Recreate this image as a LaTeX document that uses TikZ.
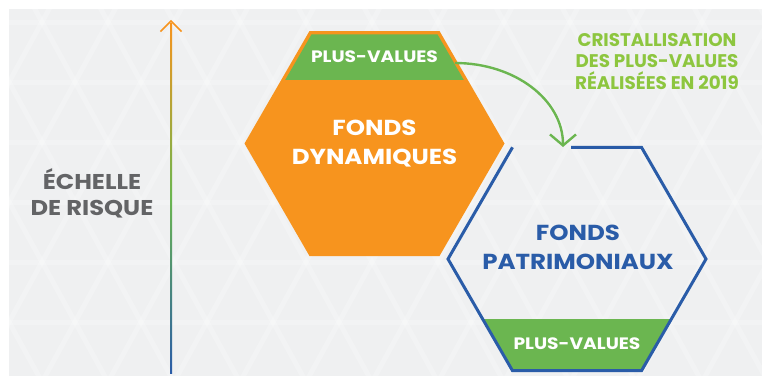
\documentclass[tikz,border=0pt]{standalone}
\usepackage{fontspec}
\setmainfont{Poppins}
\newfontfamily\widefont[FakeStretch=1.13]{Poppins}
\usetikzlibrary{arrows.meta}

\definecolor{bggray}{HTML}{EFF0F1}
\definecolor{fondsorange}{HTML}{F7941E}
\definecolor{bandgreen}{HTML}{6BB650}
\definecolor{fondsblue}{HTML}{2A5CA8}
\definecolor{limetext}{HTML}{8DC63F}
\definecolor{scalegray}{HTML}{636466}

\begin{document}
\begin{tikzpicture}[x=1pt,y=-1pt,
    grid/.style={white, opacity=0.22, line width=5pt},
    bigcaps/.style={align=center, inner sep=0pt, font=\widefont\fontsize{21.7}{29}\selectfont\bfseries},
    greencaps/.style={align=center, inner sep=0pt, limetext, font=\fontsize{18.3}{21.5}\selectfont\bfseries},
    bandcaps/.style={inner sep=0pt, white, font=\widefont\fontsize{16.5}{20}\selectfont\bfseries},
    graycaps/.style={align=center, inner sep=0pt, scalegray, font=\widefont\fontsize{21.4}{26}\selectfont\bfseries}]
    \useasboundingbox (0,0) rectangle (762,376);
% background with faint triangles
    \fill[bggray] (9,9) rectangle (762,376);
    \begin{scope}
      \clip (9,9) rectangle (762,376);
      \foreach \r in {0,...,6}
        \draw[grid] (9,22+60*\r) -- (762,22+60*\r);
      \foreach \k in {-8,...,14} {
        \draw[grid] (9+66*\k,-38) -- ++(297,540);
        \draw[grid] (405+66*\k,-38) -- ++(-297,540);
      }
    \end{scope}
% risk scale
    \shade[top color=fondsorange, bottom color=fondsblue, middle color=bandgreen]
      (170,23) rectangle (172,373);
    \coordinate (tip) at (171,21);
    \draw[fondsorange, line width=1.6pt, line join=miter] (160.5,31.5) -- (tip) -- (181.5,31.5);
    \node[graycaps] (scale) at (92,193) {ÉCHELLE\\DE RISQUE};
% orange hexagon
    \fill[fondsorange] (244.5,143.5) -- (309.5,31) -- (439.5,31) -- (504.5,143.5)
      -- (439.5,256) -- (309.5,256) -- cycle;
    \begin{scope}
      \clip (200,0) rectangle (550,79);
      \fill[bandgreen] (248.5,143.5) -- (311.5,34.4) -- (437.5,34.4) -- (500.5,143.5)
        -- (437.5,252.6) -- (311.5,252.6) -- cycle;
    \end{scope}
    \node[bandcaps] (pvtop) at (374.5,57) {PLUS-VALUES};
    \node[bigcaps, white] (dyn) at (374.5,144) {FONDS\\DYNAMIQUES};
% blue hexagon
    \begin{scope}
      \clip (400,319) rectangle (750,376);
      \fill[bandgreen] (448,259) -- (512.5,147.3) -- (641.5,147.3) -- (706,259)
        -- (641.5,370.7) -- (512.5,370.7) -- cycle;
    \end{scope}
    \draw[fondsblue, line width=3pt, line join=miter] (571,147.3) -- (641.5,147.3) -- (706,259)
      -- (641.5,370.7) -- (512.5,370.7) -- (448,259) -- (512.5,147.3);
    \node[bigcaps, fondsblue] (patri) at (578,247) {FONDS\\PATRIMONIAUX};
    \node[bandcaps] (pvbot) at (577,344) {PLUS-VALUES};
% crystallisation arrow
    \node[greencaps] (cristal) at (657,61.5) {CRISTALLISATION\\DES PLUS-VALUES\\RÉALISÉES EN 2019};
    \coordinate (from) at (455,63);
    \coordinate (to) at (563,147);
    \draw[bandgreen, line width=2.4pt, -{Straight Barb[length=11pt,width=26pt]}]
      (from) .. controls (515,63) and (563,100) .. (to);
\end{tikzpicture}
\end{document}
